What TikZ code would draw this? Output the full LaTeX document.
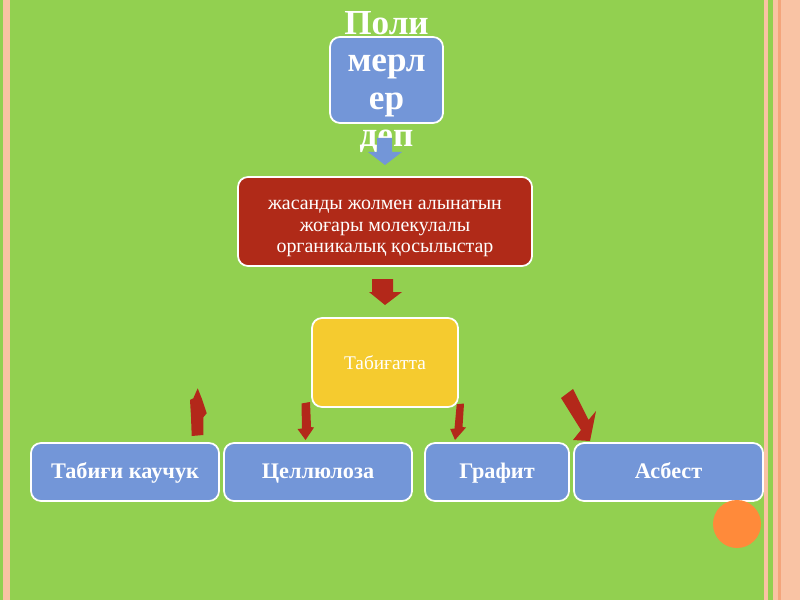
\documentclass[tikz,border=0pt]{standalone}
\usepackage{fontspec}
\setmainfont{Liberation Serif}
\usepackage{tikz}
\usetikzlibrary{calc}
\definecolor{bggreen}{HTML}{92D050}
\definecolor{peachx}{HTML}{F9C3A4}
\definecolor{peachdk}{HTML}{F4A57C}
\definecolor{boxblue}{HTML}{7396D8}
\definecolor{boxred}{HTML}{B02A18}
\definecolor{boxyellow}{HTML}{F5CB2F}
\definecolor{arred}{HTML}{B3281A}
\definecolor{dotorange}{HTML}{FF8A3A}
\tikzset{
  box/.style={draw=white,line width=1.5pt,rounded corners=3mm,text=white,align=center,inner sep=0pt},
  bluebox/.style={box,fill=boxblue},
  redbox/.style={box,fill=boxred},
  yelbox/.style={box,fill=boxyellow,font=\fontsize{16.5}{18.4}\selectfont},
  itembox/.style={bluebox,minimum height=17.4mm,text height=14pt,text depth=3.2pt,font=\bfseries\fontsize{19}{22}\selectfont},
  titletxt/.style={text=white,align=center,inner sep=0pt,font=\bfseries\fontsize{30}{31.7}\selectfont},
  plaintxt/.style={text=white,align=center,inner sep=0pt,font=\fontsize{17}{18.4}\selectfont},
  redar/.style={fill=arred},
  bluear/.style={fill=boxblue}
}

\begin{document}
\begin{tikzpicture}[x=0.3mm,y=-0.3mm]
% slide background
\fill[bggreen] (0,0) rectangle (800,600);
\fill[peachx] (3,0) rectangle (10,600);
\fill[peachx] (764,0) rectangle (768,600);
\fill[peachx] (773,0) rectangle (800,600);
\fill[peachdk] (778,0) rectangle (781,600);

% top
\node[bluebox,minimum width=33.9mm,minimum height=25.8mm] (poly) at (386.5,80) {};
\node[titletxt] (polytxt) at (386.5,82) {Поли\\мерл\\ер\\деп};
\fill[bluear] (377,138) -- (392,138) -- (392,152) -- (402,152) -- (385,165) -- (368,152) -- (377,152) -- cycle;

\node[redbox,minimum width=88.2mm,minimum height=26.7mm] (synth) at (385,221.5) {};
\node[plaintxt] (synthtxt) at (385,228.5)
  {жасанды жолмен алынатын\\жоғары молекулалы\\органикалық қосылыстар};
\fill[redar] (372,279) -- (393,279) -- (393,292) -- (402,292) -- (385,305) -- (369,292) -- (372,292) -- cycle;

\node[yelbox,minimum width=43.8mm,minimum height=26.7mm] (nature) at (385,362.5) {Табиғатта};

% bottom row
\node[itembox,minimum width=56.4mm] (rubber) at (125,472) {Табиғи каучук};
\node[itembox,minimum width=56.4mm] (cellul) at (318,472) {Целлюлоза};
\node[itembox,minimum width=43.2mm] (graph) at (497,472) {Графит};
\node[itembox,minimum width=56.7mm] (asb) at (668.5,472) {Асбест};

% arrows to the row
\fill[redar] (197.7,388.3) -- (201.7,398.3) -- (206.7,413.3) -- (203.3,417.3) -- (203.3,435) -- (191.7,436) -- (191,416.7) -- (190,400) -- (193.3,398.3) -- cycle;
\fill[redar] (301.5,403.5) -- (310,402) -- (311,427) -- (314,427.5) -- (305.5,440) -- (297.5,429) -- (302,428.5) -- cycle;
\fill[redar] (456.7,404.3) -- (464,403.5) -- (462.5,427) -- (466,427.5) -- (455,440) -- (450.2,429) -- (454.5,428.5) -- cycle;
\fill[redar] (561,398) -- (573,389) -- (588.5,420) -- (596,411) -- (590,441) -- (573,440) -- (581,430) -- cycle;

\fill[dotorange] (737,524) circle (24);
\end{tikzpicture}
\end{document}
